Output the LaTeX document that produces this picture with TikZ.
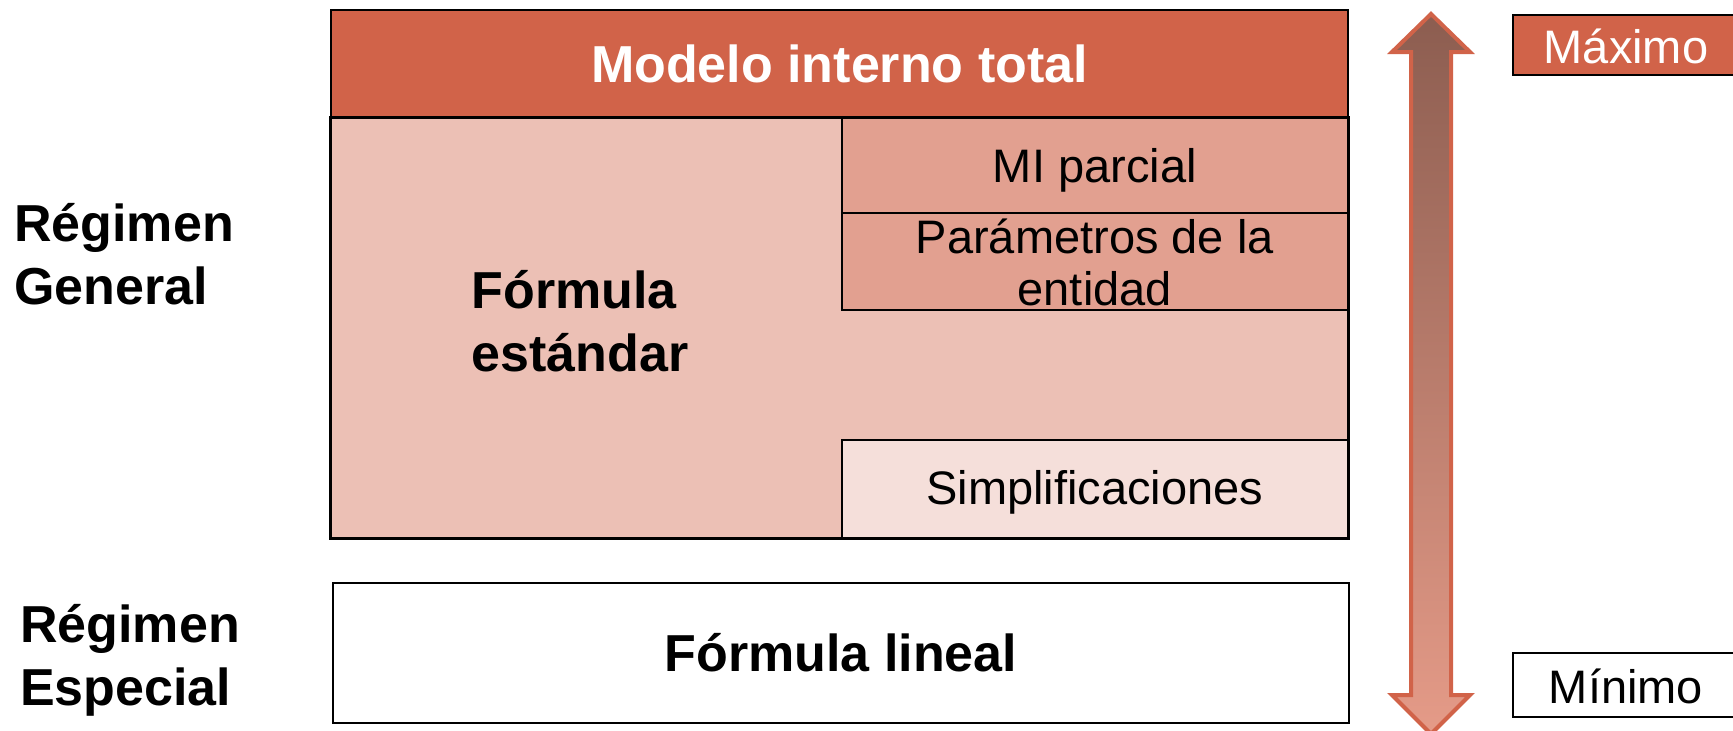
\documentclass[tikz,border=0pt]{standalone}
\usepackage{fontspec}
\setmainfont{Liberation Sans}
\begin{document}
\begin{tikzpicture}[x=1pt,y=-1pt,
  box/.style={draw=black, line width=2pt, inner sep=0pt, anchor=north west},
  inbox/.style={draw=black, line width=1.6pt, inner sep=0pt, anchor=north west},
  bigtxt/.style={font=\fontsize{52}{63}\selectfont\bfseries},
  smalltxt/.style={font=\fontsize{47}{52}\selectfont, align=center},
  plain/.style={inner sep=0pt}
]
\definecolor{rust}{HTML}{D16349}
\definecolor{pinkbg}{HTML}{ECC0B5}
\definecolor{midpink}{HTML}{E2A090}
\definecolor{lightpink}{HTML}{F5DFDA}
\definecolor{arrowtop}{HTML}{8C5D50}
\definecolor{arrowbot}{HTML}{E59B88}
\useasboundingbox (0,0) rectangle (1733,731);

% Fórmula estándar region
\node[box, fill=pinkbg, minimum width=1017pt, minimum height=420pt] (fe) at (330,117) {};
% Top band
\node[box, fill=rust, minimum width=1017pt, minimum height=108pt] (mit) at (330,9) {};
\node[plain, bigtxt, text=white] at (mit.center) {Modelo interno total};
% MI parcial
\node[inbox, fill=midpink, minimum width=506pt, minimum height=95pt] (mip) at (841,117) {};
\node[plain, smalltxt] at ([yshift=-5.5pt]mip.center) {MI parcial};
% Parámetros
\node[inbox, fill=midpink, minimum width=506pt, minimum height=97pt] (par) at (841,212) {};
\node[plain, smalltxt] at ([yshift=-1pt]par.center) {Parámetros de la\\entidad};
% Simplificaciones
\node[inbox, fill=lightpink, minimum width=506pt, minimum height=98pt] (sim) at (841,439) {};
\node[plain, smalltxt] at ([yshift=-3.5pt]sim.center) {Simplificaciones};
% redraw outer border of big region
\draw[line width=2pt] (fe.north west) rectangle (fe.south east);
% Fórmula estándar text
\node[plain, bigtxt, align=left] (fet) at (580,321) {Fórmula\\estándar};
% Fórmula lineal
\node[box, fill=white, minimum width=1016pt, minimum height=140pt] (fl) at (332,582) {};
\node[plain, bigtxt] at (fl.center) {Fórmula lineal};

% Left labels
\node[plain, bigtxt, align=left, anchor=west] (rg) at (14,254) {Régimen\\General};
\node[plain, bigtxt, align=left, anchor=west] (re) at (20,660) {Régimen\\Especial};

% Double arrow
\shade[top color=arrowtop, bottom color=arrowbot, draw=rust, line width=4pt, miter limit=10]
  (1431,14) -- (1470,52) -- (1451,52) -- (1451,695) -- (1470,695) -- (1431,734)
  -- (1392,695) -- (1411,695) -- (1411,52) -- (1392,52) -- cycle;

% Máximo / Mínimo
\node[box, fill=rust, minimum width=240pt, minimum height=60pt] (max) at (1512,14) {};
\node[plain, smalltxt, text=white] at (1626,46) {Máximo};
\node[box, fill=white, minimum width=240pt, minimum height=64pt] (min) at (1512,652) {};
\node[plain, smalltxt] at (1626,686) {Mínimo};
\end{tikzpicture}
\end{document}
